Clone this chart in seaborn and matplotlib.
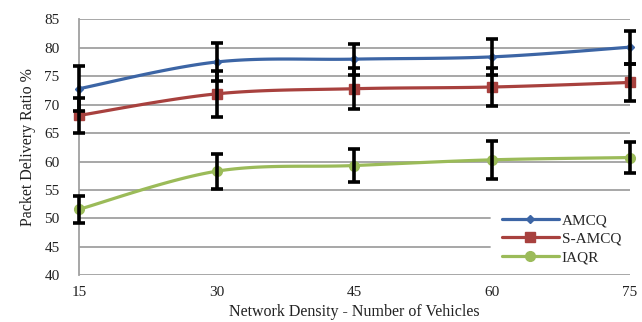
import numpy as np
import matplotlib
matplotlib.use("Agg")
import matplotlib.pyplot as plt
import seaborn as sns
from matplotlib.lines import Line2D

# Data
density = [15, 30, 45, 60, 75]
amcq = [72.8, 77.5, 78.0, 78.4, 80.1]
amcq_err = [4.0, 3.3, 2.7, 3.2, 2.9]
samcq = [68.1, 71.9, 72.8, 73.1, 73.9]
samcq_err = [3.0, 4.0, 3.6, 3.3, 3.3]
iaqr = [51.6, 58.3, 59.3, 60.3, 60.7]
iaqr_err = [2.4, 3.1, 2.9, 3.3, 2.8]

names = ["AMCQ", "S-AMCQ", "IAQR"]
colors = ["#3c65a5", "#a8413e", "#9bbb59"]
markers = ["D", "s", "o"]
msizes = [4, 7, 7]


def smooth(x, y, n=30):
    # Excel-like smoothed line (Bezier through the points)
    x = np.asarray(x, float)
    y = np.asarray(y, float)
    xs, ys = [], []
    for i in range(len(x) - 1):
        p0 = np.array([x[max(i - 1, 0)], y[max(i - 1, 0)]])
        p1 = np.array([x[i], y[i]])
        p2 = np.array([x[i + 1], y[i + 1]])
        p3 = np.array([x[min(i + 2, len(x) - 1)], y[min(i + 2, len(x) - 1)]])
        c1 = p1 + (p2 - p0) / 6
        c2 = p2 - (p3 - p1) / 6
        t = np.linspace(0, 1, n)[:, None]
        pts = ((1 - t) ** 3) * p1 + 3 * ((1 - t) ** 2) * t * c1 + 3 * (1 - t) * t ** 2 * c2 + t ** 3 * p2
        xs.extend(pts[:, 0])
        ys.extend(pts[:, 1])
    return xs, ys


sns.set_style("white")
plt.rcParams["font.family"] = ["Liberation Serif", "DejaVu Serif"]

fig = plt.figure(figsize=(6.42, 3.22), dpi=100)
ax = fig.add_axes([0.123, 0.145, 0.858, 0.795])

grid_c = "#a0a0a0"
for v in range(40, 90, 5):
    if v in (45, 50):
        ax.plot([15, 59.8], [v, v], color=grid_c, lw=1.3, zorder=1)
    else:
        ax.axhline(v, color=grid_c, lw=1.3, zorder=1)

handles = []
for vals, errs, name, c, m, ms in zip([amcq, samcq, iaqr], [amcq_err, samcq_err, iaqr_err],
                                      names, colors, markers, msizes):
    sx, sy = smooth(density, vals)
    sns.lineplot(x=sx, y=sy, ax=ax, color=c, lw=2.3, sort=False, zorder=3)
    ax.plot(density, vals, ls="none", marker=m, ms=ms, color=c, zorder=4, clip_on=False)
    eb = ax.errorbar(density, vals, yerr=errs, fmt="none", ecolor="black", elinewidth=2.6,
                     capsize=4.5, capthick=2.6, zorder=5)
    for art in eb.lines[1] + eb.lines[2]:
        art.set_clip_on(False)
    handles.append(Line2D([0], [0], color=c, lw=2.3, marker=m, ms=ms))

ax.set_xlim(15, 75)
ax.set_ylim(40, 85)
ax.set_xticks(density)
ax.set_yticks(range(40, 90, 5))
ax.tick_params(axis="both", length=0, labelsize=11, colors="#222222")
ax.tick_params(axis="x", pad=8)
ax.tick_params(axis="y", pad=14)

for s in ["top", "right", "bottom"]:
    ax.spines[s].set_visible(False)
ax.spines["left"].set_color(grid_c)
ax.spines["left"].set_linewidth(1.3)

ax.set_ylabel("Packet Delivery Ratio %", fontsize=11.5, color="#222222", labelpad=6)
ax.set_xlabel("Network Density - Number of Vehicles", fontsize=11.5, color="#222222", labelpad=3)

leg = ax.legend(handles, names, loc="lower right", bbox_to_anchor=(0.995, 0.02),
                frameon=False, fontsize=11, handlelength=3.7, handletextpad=0.2,
                labelspacing=0.3, borderaxespad=0)

fig.savefig("out.png", dpi=100, facecolor="white")
